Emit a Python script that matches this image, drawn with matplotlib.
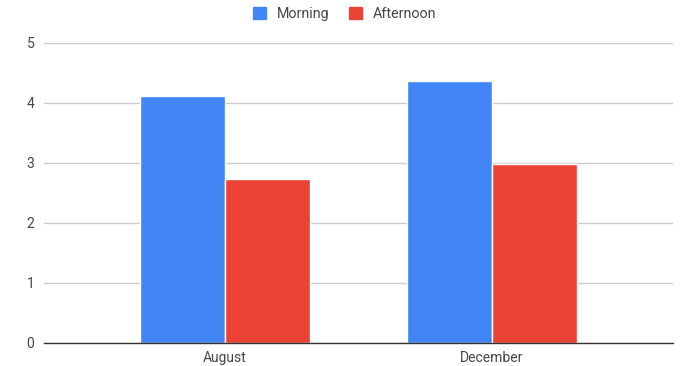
import matplotlib.pyplot as plt
import numpy as np

plt.rcParams['font.family'] = ['Roboto', 'DejaVu Sans']

months = ['August', 'December']
morning = [4.11, 4.36]
afternoon = [2.74, 2.99]
y_ticks = [0, 1, 2, 3, 4, 5]

blue = '#4285F4'
red = '#EA4335'
text_col = '#444444'

fig = plt.figure(figsize=(6.81, 3.66), dpi=100)
ax = fig.add_axes([44 / 681, 1 - 343 / 366, 629 / 681, 300 / 366])

x = np.arange(len(months))
w = 0.318
ax.bar(x - w / 2, morning, w, color=blue, edgecolor='white', linewidth=1, label='Morning', zorder=3)
ax.bar(x + w / 2, afternoon, w, color=red, edgecolor='white', linewidth=1, label='Afternoon', zorder=3)

ax.set_xlim(-0.678, 1.678)
ax.set_ylim(0, 5)
ax.set_yticks(y_ticks)
ax.set_xticks(x)
ax.set_xticklabels(months)

ax.grid(axis='y', color='#cccccc', linewidth=1, zorder=0)
ax.set_axisbelow(True)
for side in ['top', 'right', 'left']:
    ax.spines[side].set_visible(False)
ax.spines['bottom'].set_color('#333333')
ax.spines['bottom'].set_linewidth(1)
ax.spines['bottom'].set_zorder(4)

ax.tick_params(axis='both', length=0, labelsize=10, labelcolor=text_col)
ax.tick_params(axis='y', pad=7)
ax.tick_params(axis='x', pad=6)

# legend squares without the white bar outline
handles = [plt.Rectangle((0, 0), 1, 1, color=blue), plt.Rectangle((0, 0), 1, 1, color=red)]
fig.legend(handles, ['Morning', 'Afternoon'], loc='center', bbox_to_anchor=(0.5 + 4 / 681, 1 - 14 / 366),
           ncol=2, frameon=False, fontsize=10.3, labelcolor=text_col, handlelength=0.9,
           handleheight=0.9, handletextpad=0.75, columnspacing=1.35, borderpad=0)

fig.savefig('out.png', dpi=100)
